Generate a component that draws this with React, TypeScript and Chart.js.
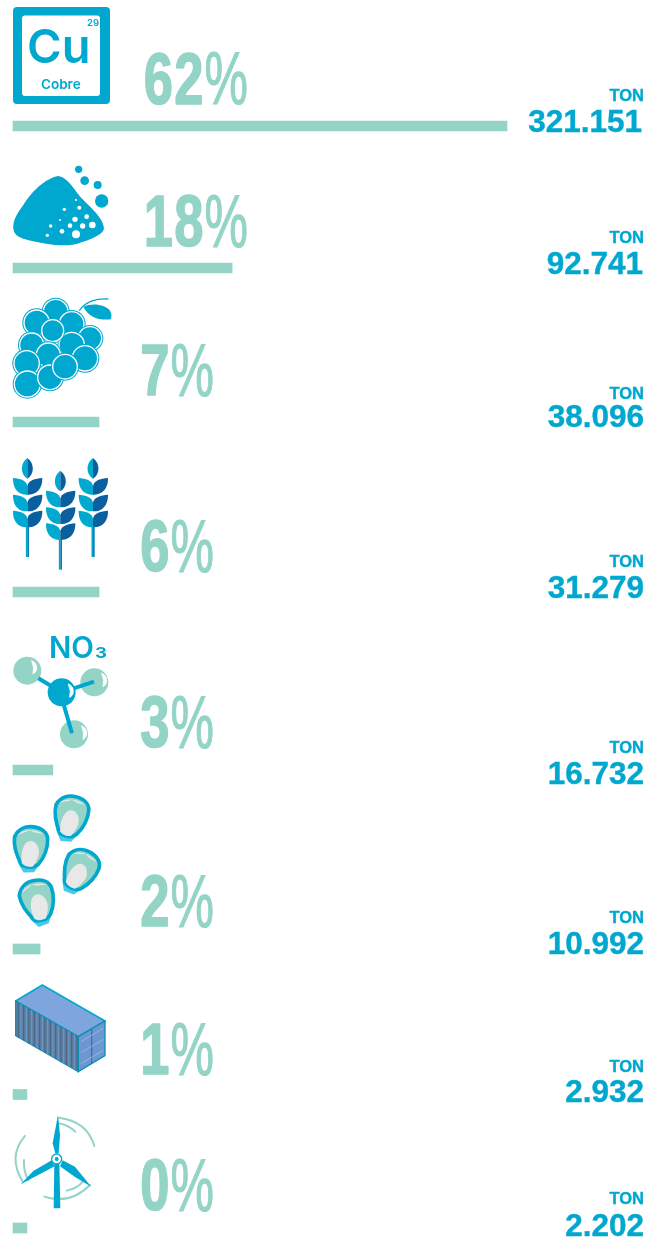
import React, { useEffect, useRef } from "react";
import { Chart, registerables } from "chart.js";

Chart.register(...registerables);

// ---- data ----
const categories = ["Cobre", "Sal", "Uva", "Trigo", "NO3", "Maíz", "Contenedor", "Eólica"];
const percentLabels = ["62", "18", "7", "6", "3", "2", "1", "0"];
const tonLabels = ["321.151", "92.741", "38.096", "31.279", "16.732", "10.992", "2.932", "2.202"];
const barLengths = [62, 27.5, 10.8, 10.8, 5.0, 3.4, 1.75, 1.75];

// ---- layout (page pixels) ----
const PAGE_W = 661;
const PAGE_H = 1239;
const BAR_LEFT = 13;
const PX_PER_UNIT = 494 / 62;
const rowBarCentre = [126, 268, 422, 592, 770, 949, 1094.5, 1228];
const rowPercentRight = [248, 248, 214, 214, 214, 214, 214, 214];
const rowPercentBase = [104, 246.5, 395.5, 571.5, 747.5, 926.5, 1074.5, 1210.5];
const rowTonBase = [101, 243, 399, 567, 753, 923, 1072, 1204];
const rowNumBase = [132, 274, 427, 598, 784, 954, 1102, 1236];
const rowNumRight = [642, 643, 644, 644, 644, 644, 644, 644];

const BLUE = "#00a8cf";
const MINT = "#93d4c6";
const LIGHT = "#00a9d0";
const DARK = "#0a5f9e";
const SANS = '"Liberation Sans", Arial, sans-serif';

const labelsPlugin = {
  id: "rowLabels",
  afterDatasetsDraw(chart: any) {
    const ctx = chart.ctx as CanvasRenderingContext2D;
    percentLabels.forEach((p, i) => {
      const right = rowPercentRight[i];
      const base = rowPercentBase[i];
      ctx.save();
      ctx.fillStyle = MINT;
      ctx.strokeStyle = MINT;
      ctx.lineWidth = 1.2;
      ctx.textAlign = "right";
      ctx.textBaseline = "alphabetic";
      ctx.translate(right, base);
      ctx.scale(0.66, 1);
      ctx.font = `400 74px ${SANS}`;
      ctx.fillText("%", 0, 0);
      ctx.strokeText("%", 0, 0);
      ctx.restore();
      ctx.save();
      ctx.fillStyle = MINT;
      ctx.strokeStyle = MINT;
      ctx.lineWidth = 1.6;
      ctx.lineJoin = "round";
      ctx.textAlign = "right";
      ctx.translate(right - 43, base - 0.5);
      ctx.scale(0.72, 0.985);
      ctx.font = `700 73px ${SANS}`;
      (ctx as any).letterSpacing = "2px";
      ctx.fillText(p, 0, 0);
      ctx.strokeText(p, 0, 0);
      ctx.restore();
    });
    tonLabels.forEach((t, i) => {
      ctx.save();
      ctx.fillStyle = BLUE;
      ctx.strokeStyle = BLUE;
      ctx.lineWidth = 0.4;
      ctx.textAlign = "right";
      ctx.font = `700 16.5px ${SANS}`;
      ctx.fillText("TON", 644, rowTonBase[i]);
      ctx.strokeText("TON", 644, rowTonBase[i]);
      ctx.font = `700 31.5px ${SANS}`;
      ctx.fillText(t, rowNumRight[i], rowNumBase[i]);
      ctx.strokeText(t, rowNumRight[i], rowNumBase[i]);
      ctx.restore();
    });
  },
};

const grapes: number[][] = [
  [167, 485, 37], [110, 518, 38], [215, 522, 37], [270, 565, 35], [95, 585, 36], [215, 585, 38],
  [158, 542, 33], [145, 615, 36], [80, 640, 38], [255, 625, 38], [82, 702, 39], [150, 682, 37], [195, 650, 37],
];
const saltDots: number[][] = [
  [228, 150, 3], [193, 178, 5], [238, 173, 6], [260, 200, 7], [225, 208, 8], [180, 210, 3], [210, 227, 7],
  [248, 228, 8], [277, 225, 10], [152, 228, 5], [186, 244, 7], [228, 253, 12], [142, 256, 5],
];

function Wheat({ x, y }: { x: number; y: number }) {
  const pair = (py: number, k: number) => (
    <g key={k} transform={`translate(0,${py})`}>
      <path d="M0 50 C-30 52 -44 28 -43 0 C-22 1 -2 8 0 24 Z" fill={LIGHT} />
      <path d="M0 50 C30 52 46 28 45 0 C24 1 2 8 0 24 Z" fill={DARK} />
    </g>
  );
  return (
    <g transform={`translate(${x},${y})`}>
      <path d="M0 0 C-22 16 -22 48 0 62 Z" fill={LIGHT} />
      <path d="M0 0 C22 16 22 48 0 62 Z" fill={DARK} />
      {pair(60, 1)}
      {pair(110, 2)}
      {pair(158, 3)}
      <rect x={-4.5} y={205} width={5} height={92} fill={LIGHT} />
      <rect x={0} y={205} width={5} height={92} fill="#0a7db8" />
    </g>
  );
}

function Kernel({ x, y, r }: { x: number; y: number; r: number }) {
  return (
    <g transform={`translate(${x},${y}) rotate(${r})`}>
      <path d="M-42 36 L-24 70 L8 70 L28 42 Z" fill="#4cc8ea" />
      <path d="M-47 -38 C-35 -62 -12 -70 10 -66 C35 -62 52 -48 52 -28 C52 -5 42 25 22 46 C12 56 -5 58 -28 48 C-40 25 -52 -10 -47 -38 Z" fill={MINT} stroke={BLUE} strokeWidth={11} strokeLinejoin="round" />
      <path d="M-38 -42 C-25 -60 15 -62 42 -42 C25 -48 12 -46 0 -56 C-12 -50 -25 -50 -38 -42 Z" fill="#e8e8e8" />
      <path d="M-28 42 C-32 10 -20 -22 -2 -24 C16 -26 28 -4 24 16 C20 32 12 44 5 53 C-8 55 -20 52 -28 42 Z" fill="#e8e8e8" />
    </g>
  );
}

function Highlight({ x, y }: { x: number; y: number }) {
  return <path d={`M${x} ${y - 20} q18 8 14 28 q-2 8 -10 12 q6 -18 -4 -40 Z`} fill="#fff" stroke="#fff" strokeWidth={3} />;
}

function Icons() {
  const stripes = Array.from({ length: 23 }, (_, i) => i);
  return (
    <svg width={PAGE_W} height={PAGE_H} style={{ position: "absolute", left: 0, top: 0, pointerEvents: "none" }}>
      {/* Cu */}
      <rect x={13} y={7} width={97} height={97} rx={4} fill={BLUE} />
      <rect x={22} y={15.5} width={78} height={80.5} rx={3} fill="#fff" />
      <text x={27} y={63} fontFamily="Inter, sans-serif" fontWeight={600} fontSize={47} fill={BLUE}>Cu</text>
      <text x={41} y={89} fontFamily="Inter, sans-serif" fontWeight={600} fontSize={13.5} fill={BLUE}>Cobre</text>
      <text x={87} y={26} fontFamily="Inter, sans-serif" fontWeight={600} fontSize={9.5} fill={BLUE}>29</text>

      {/* Heap */}
      <g transform="translate(0,150) scale(0.3333)">
        <path d="M40 225 C42 205 55 185 70 165 C95 125 135 85 175 78 C205 82 225 125 250 150 C275 175 310 205 312 235 C310 255 270 270 230 282 C190 292 130 282 70 266 C45 258 38 245 40 225 Z" fill={BLUE} />
        {[[236, 58, 11], [254, 92, 13], [293, 105, 12], [305, 153, 20]].map((c, i) => (
          <circle key={i} cx={c[0]} cy={c[1]} r={c[2]} fill={BLUE} />
        ))}
        {saltDots.map((c, i) => (
          <circle key={i} cx={c[0]} cy={c[1]} r={c[2]} fill="#fff" />
        ))}
      </g>

      {/* Grapes */}
      <g transform="translate(0,150) scale(0.3333)">
        {grapes.map((c, i) => (
          <g key={i}>
            <circle cx={c[0]} cy={c[1]} r={c[2] + 5} fill={BLUE} />
            <circle cx={c[0]} cy={c[1]} r={c[2]} fill={BLUE} stroke="#fff" strokeWidth={4} />
          </g>
        ))}
        <path d="M238 482 C255 455 290 444 325 447" fill="none" stroke={BLUE} strokeWidth={4} />
        <path d="M250 470 C275 458 315 462 330 482 C336 492 335 502 332 508 C295 512 265 500 250 470 Z" fill={BLUE} />
      </g>

      {/* Wheat */}
      <g transform="translate(0,450) scale(0.3333)">
        <Wheat x={82} y={24} />
        <Wheat x={181} y={62} />
        <Wheat x={279} y={24} />
      </g>

      {/* Molecule */}
      <text x={49} y={658} fontFamily="Inter, sans-serif" fontWeight={600} fontSize={30} fill={BLUE} textLength={45} lengthAdjust="spacingAndGlyphs">NO</text>
      <text x={95} y={658} fontFamily="Inter, sans-serif" fontWeight={700} fontSize={15} fill={BLUE} textLength={12} lengthAdjust="spacingAndGlyphs">3</text>
      <g transform="translate(0,450) scale(0.3333)">
        <circle cx={82} cy={662} r={42} fill={MINT} />
        <circle cx={283} cy={697} r={42} fill={MINT} />
        <circle cx={222} cy={853} r={42} fill={MINT} />
        <path d="M115 685 L185 727 M185 727 L282 695 M190 760 L216 850" stroke={BLUE} strokeWidth={12} />
        <circle cx={185} cy={727} r={42} fill={BLUE} />
        <Highlight x={95} y={652} />
        <Highlight x={305} y={690} />
        <Highlight x={245} y={848} />
        <Highlight x={205} y={722} />
      </g>

      {/* Kernels */}
      <g transform="translate(0,785) scale(0.3333)">
        <Kernel x={212} y={100} r={5} />
        <Kernel x={92} y={192} r={-2} />
        <Kernel x={238} y={260} r={20} />
        <Kernel x={115} y={352} r={-20} />
      </g>

      {/* Container */}
      <g transform="translate(0,785) scale(0.3333)">
        <polygon points="127,600 47,648 235,755 315,708" fill="#7ea6dc" stroke={BLUE} strokeWidth={5} strokeLinejoin="round" />
        <polygon points="47,648 235,755 235,860 47,752" fill="#5f7f9f" stroke="#0f8fb5" strokeWidth={4} />
        {stripes.map((i) => (
          <line key={i} x1={55 + i * 8} y1={653 + i * 4.55} x2={55 + i * 8} y2={757 + i * 4.55} stroke={i % 2 ? "#6b9bd4" : "#4a6380"} strokeWidth={3} />
        ))}
        <polygon points="235,755 315,708 315,812 235,860" fill="#6c97d0" stroke="#0f8fb5" strokeWidth={4} />
        <line x1={275} y1={732} x2={275} y2={836} stroke="#2c7aa8" strokeWidth={4} />
        {[0, 1, 2].map((i) => (
          <line key={i} x1={243} y1={770 + i * 33} x2={310} y2={730 + i * 33} stroke="#a9c6e8" strokeWidth={2} />
        ))}
      </g>

      {/* Turbine */}
      <g transform="translate(0,785) scale(0.3333)" fill="none" stroke={MINT} strokeWidth={6} strokeLinecap="round">
        <path d="M175 998 Q262 1008 283 1083" />
        <path d="M175 1015 Q205 1020 226 1040" />
        <path d="M75 1053 Q22 1115 68 1190" />
        <path d="M72 1125 Q70 1160 85 1185" />
        <path d="M133 1235 Q210 1260 270 1200" />
        <path d="M200 1217 Q232 1212 250 1188" />
      </g>
      <g transform="translate(0,785) scale(0.3333)" fill={BLUE}>
        <polygon points="163,1132 178,1132 181,1270 161,1270" />
        <polygon points="158,1075 174,990 180,1050 176,1105 166,1105" />
        <polygon points="155,1126 164,1144 62,1198 100,1158" />
        <polygon points="188,1126 225,1145 274,1205 225,1176 180,1144" />
        <circle cx={170} cy={1122} r={15} fill="#fff" stroke={BLUE} strokeWidth={4} />
        <circle cx={170} cy={1122} r={6} />
      </g>
    </svg>
  );
}

export default function App() {
  const ref = useRef<HTMLCanvasElement | null>(null);
  useEffect(() => {
    if (!ref.current) return;
    const chart = new Chart(ref.current, {
      type: "bar",
      data: {
        labels: categories,
        datasets: [
          {
            data: barLengths.map((v, i) => ({ x: v, y: rowBarCentre[i] })) as any,
            backgroundColor: MINT,
            barThickness: 10,
            borderWidth: 0,
          },
        ],
      },
      options: {
        indexAxis: "y",
        animation: false,
        responsive: false,
        layout: { padding: 0 },
        plugins: { legend: { display: false }, tooltip: { enabled: false } },
        scales: {
          x: {
            type: "linear",
            display: false,
            min: -BAR_LEFT / PX_PER_UNIT,
            max: (PAGE_W - BAR_LEFT) / PX_PER_UNIT,
          },
          y: { type: "linear", display: false, offset: false, reverse: true, min: 0, max: PAGE_H },
        },
      } as any,
      plugins: [labelsPlugin],
    });
    return () => chart.destroy();
  }, []);
  return (
    <div style={{ position: "absolute", left: 0, top: 0, width: PAGE_W, height: PAGE_H, background: "#fff", overflow: "hidden" }}>
      <canvas ref={ref} width={PAGE_W} height={PAGE_H} style={{ position: "absolute", left: 0, top: 0, display: "block" }} />
      <Icons />
    </div>
  );
}
